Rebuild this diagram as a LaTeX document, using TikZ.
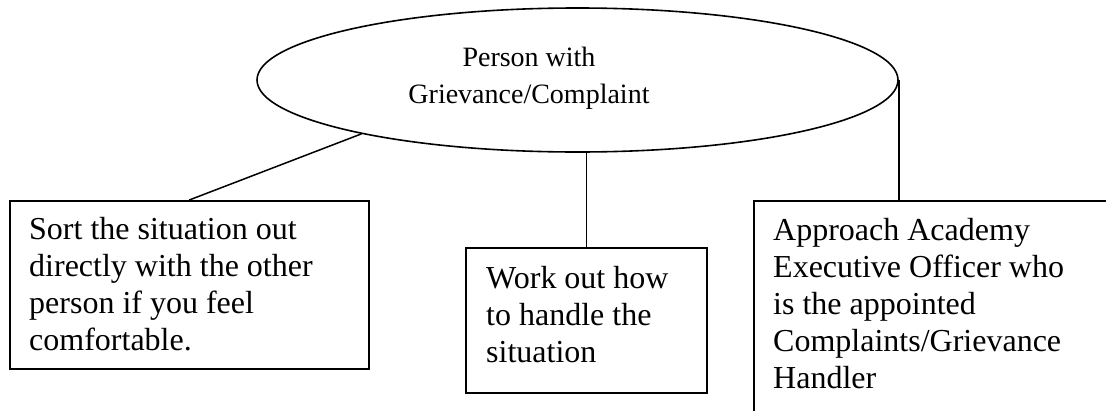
\documentclass[tikz,border=0pt]{standalone}
\usepackage{fontspec}
\setmainfont{Liberation Serif}
\usetikzlibrary{shapes.geometric}
\tikzset{
  boxshape/.style={draw, line width=1.6pt, rectangle, inner sep=0pt, anchor=north west},
  boxtext/.style={anchor=north west, inner sep=0pt, align=left, font=\fontsize{32}{37}\selectfont},
  link/.style={line width=1.5pt},
}
\begin{document}
\begin{tikzpicture}[x=1pt,y=-1pt]
\useasboundingbox (0,0) rectangle (1106,410);
\clip (0,0) rectangle (1106,410);
\node[draw, line width=1.6pt, ellipse, minimum width=641pt, minimum height=144pt, inner sep=0pt] (p) at (577.5,80) {};
\node[align=center, inner sep=0pt, font=\fontsize{28}{37}\selectfont] (pt) at (529,78) {Person with\\Grievance/Complaint};

\node[boxshape, minimum width=359pt, minimum height=168pt] (a) at (9,200) {};
\node[boxtext] (at) at (29,217) {Sort the situation out\\directly with the other\\person if you feel\\comfortable.};

\node[boxshape, minimum width=241pt, minimum height=145pt] (b) at (465,247) {};
\node[boxtext] (bt) at (486,266) {Work out how\\to handle the\\situation};

\node[boxshape, minimum width=450pt, minimum height=260pt] (c) at (753,200) {};
\node[boxtext] (ct) at (773,218) {Approach Academy\\Executive Officer who\\is the appointed\\Complaints/Grievance\\Handler};

\draw[link] (a.north) -- (p.194);
\draw[link] (b.north) -- (b.north |- p.south);
\draw[link] (p.east) -- (p.east |- c.north);
\end{tikzpicture}
\end{document}
